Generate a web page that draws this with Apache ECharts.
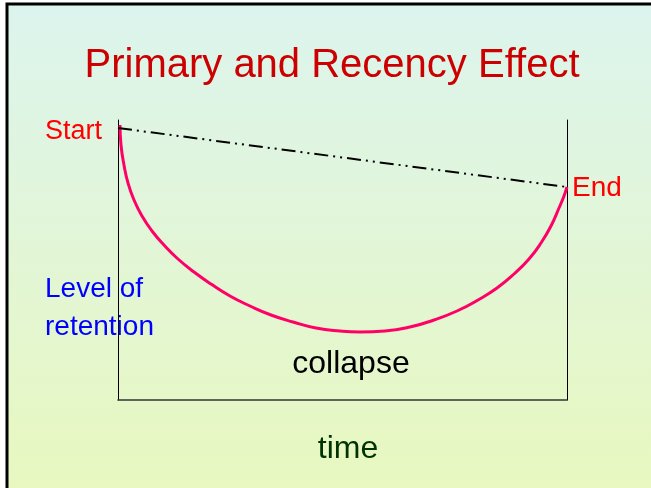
<!DOCTYPE html>
<html>
<head>
    <meta charset="utf-8">
    <title>Primary and Recency Effect</title>
    <script type="text/javascript" src="https://cdn.jsdelivr.net/npm/echarts@6/dist/echarts.min.js"></script>
    <style>
        html, body { margin: 0; padding: 0; background: #fff; }
    </style>
</head>
<body>
<div id="chartmain" style="width:651px; height:488px;"></div>
<script type="text/javascript">
// time runs 0..449 along the bottom, retention 0..280 up the left side
var curveTime      = [2, 3, 6, 10, 16, 24, 34, 46, 60, 76, 93, 112, 132, 153, 175, 198, 222, 242, 267, 292, 316, 339, 360, 379, 396, 411, 423, 433, 441, 446, 449];
var curveRetention = [275, 255, 235, 217, 200, 184, 169, 155, 141, 128, 116, 104, 94, 85, 78, 72, 69, 68, 69, 73, 80, 89, 100, 112, 126, 141, 157, 174, 192, 204, 213];
var lineTime      = [0, 449];
var lineRetention = [272, 213];

var font = 'Liberation Sans, Arial, sans-serif';

function pairs(xs, ys) {
    var out = [];
    for (var i = 0; i < xs.length; i++) out.push([xs[i], ys[i]]);
    return out;
}

var option = {
    backgroundColor: '#ffffff',
    animation: false,
    grid: { left: 118, right: 84, top: 120, bottom: 88 },
    xAxis: {
        type: 'value', min: 0, max: 449,
        axisLine: { show: true, lineStyle: { color: '#333', width: 1.5 } },
        axisTick: { show: false }, axisLabel: { show: false }, splitLine: { show: false }
    },
    yAxis: [
        {
            type: 'value', min: 0, max: 280, position: 'left',
            axisLine: { show: true, lineStyle: { color: '#000', width: 1 } },
            axisTick: { show: false }, axisLabel: { show: false }, splitLine: { show: false }
        },
        {
            type: 'value', min: 0, max: 280, position: 'right',
            axisLine: { show: true, lineStyle: { color: '#000', width: 1 } },
            axisTick: { show: false }, axisLabel: { show: false }, splitLine: { show: false }
        }
    ],
    graphic: [
        // slide background with gradient; only its top and left edges fall inside the picture
        {
            type: 'rect', z: -10, silent: true,
            shape: { x: 7, y: 4, width: 700, height: 520 },
            style: {
                fill: new echarts.graphic.LinearGradient(0, 0, 0, 1, [
                    { offset: 0, color: '#dcf4ee' },
                    { offset: 1, color: '#e9f8bc' }
                ]),
                stroke: '#000', lineWidth: 3
            }
        },
        { type: 'text', x: 332, y: 66, style: { text: 'Primary and Recency Effect', fill: '#cc0000', font: '40px ' + font, align: 'center', verticalAlign: 'middle' } },
        { type: 'text', x: 45, y: 132, style: { text: 'Start', fill: '#ff0000', font: '27px ' + font, align: 'left', verticalAlign: 'middle' } },
        { type: 'text', x: 572, y: 188, style: { text: 'End', fill: '#ff0000', font: '28px ' + font, align: 'left', verticalAlign: 'middle' } },
        { type: 'text', x: 45, y: 289, style: { text: 'Level of', fill: '#0000ff', font: '28px ' + font, align: 'left', verticalAlign: 'middle' } },
        { type: 'text', x: 45, y: 327, style: { text: 'retention', fill: '#0000ff', font: '28px ' + font, align: 'left', verticalAlign: 'middle' } },
        { type: 'text', x: 351, y: 364, style: { text: 'collapse', fill: '#000000', font: '32px ' + font, align: 'center', verticalAlign: 'middle' } },
        { type: 'text', x: 348, y: 449, style: { text: 'time', fill: '#003300', font: '32px ' + font, align: 'center', verticalAlign: 'middle' } }
    ],
    series: [
        {
            name: 'retention', type: 'line', smooth: 0.5, symbol: 'none',
            data: pairs(curveTime, curveRetention),
            lineStyle: { color: '#ff0066', width: 3 }
        },
        {
            name: 'start-end', type: 'line', symbol: 'none',
            data: pairs(lineTime, lineRetention),
            lineStyle: { color: '#000', width: 2, type: [14, 5, 2, 5, 2, 5] }
        }
    ]
};

var myChart = echarts.init(document.getElementById('chartmain'));
myChart.setOption(option);
</script>
</body>
</html>
